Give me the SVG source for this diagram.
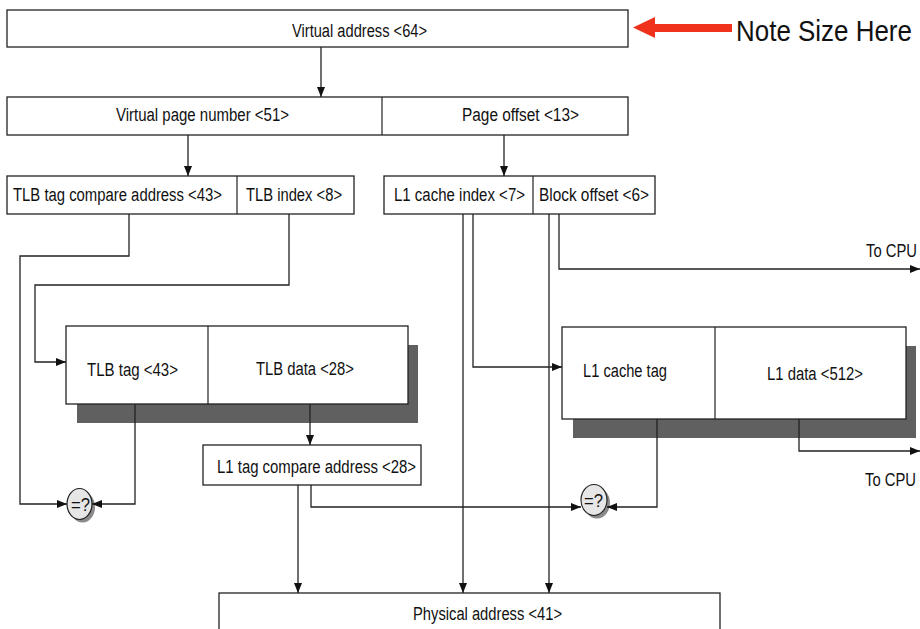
<svg xmlns="http://www.w3.org/2000/svg" width="920" height="629" viewBox="0 0 920 629">
<style>
.box{fill:#fff;stroke:#222;stroke-width:1.3}
.div{stroke:#222;stroke-width:1.2}
.shadow{fill:#606060}
.t{font-family:"Liberation Sans",Arial,sans-serif;font-size:19px;fill:#111}
.c{fill:none;stroke:#222;stroke-width:1.3}
.cmp{fill:#e6e6e6;stroke:#222;stroke-width:1.2}
.cmpsh{fill:#8a8a8a}
</style>
<defs>
<marker id="ah" markerUnits="userSpaceOnUse" markerWidth="10" markerHeight="8" refX="10" refY="4" orient="auto">
<path d="M0,0 L10,4 L0,8 z" fill="#111"/>
</marker>
</defs>
<rect width="920" height="629" fill="#fff"/>

<g id="virtual-address">
<rect class="box" x="7" y="10" width="621" height="37"/>
<text class="t" transform="translate(292,37) scale(0.8,1)" textLength="168.75" lengthAdjust="spacingAndGlyphs">Virtual address &lt;64&gt;</text>
</g>

<g id="note">
<polygon points="633,27.5 655,17 655,24 732,24 732,32 655,32 655,38" fill="#f0321c"/>
<text transform="translate(736,41) scale(0.9,1)" font-family="Liberation Sans,Arial,sans-serif" font-size="29" fill="#111" textLength="195.5" lengthAdjust="spacingAndGlyphs">Note Size Here</text>
</g>

<g id="virtual-page">
<rect class="box" x="7" y="97" width="621" height="38"/>
<line class="div" x1="382" y1="97" x2="382" y2="135"/>
<text class="t" transform="translate(116,121) scale(0.8,1)" textLength="216.25" lengthAdjust="spacingAndGlyphs">Virtual page number &lt;51&gt;</text>
<text class="t" transform="translate(462,121) scale(0.8,1)" textLength="146.25" lengthAdjust="spacingAndGlyphs">Page offset  &lt;13&gt;</text>
</g>

<g id="tlb-address">
<rect class="box" x="7" y="176" width="347" height="38"/>
<line class="div" x1="237" y1="176" x2="237" y2="214"/>
<text class="t" transform="translate(13,201) scale(0.8,1)" textLength="261.25" lengthAdjust="spacingAndGlyphs">TLB tag compare address &lt;43&gt;</text>
<text class="t" transform="translate(246,201) scale(0.8,1)" textLength="120" lengthAdjust="spacingAndGlyphs">TLB index &lt;8&gt;</text>
</g>

<g id="l1-address">
<rect class="box" x="384" y="176" width="271" height="38"/>
<line class="div" x1="533" y1="176" x2="533" y2="214"/>
<text class="t" transform="translate(394,201) scale(0.8,1)" textLength="163.75" lengthAdjust="spacingAndGlyphs">L1 cache index &lt;7&gt;</text>
<text class="t" transform="translate(539,201) scale(0.8,1)" textLength="137.5" lengthAdjust="spacingAndGlyphs">Block offset  &lt;6&gt;</text>
</g>

<g id="tlb">
<rect class="shadow" x="77" y="345" width="341" height="78"/>
<rect class="box" x="66" y="326" width="342" height="78"/>
<line class="div" x1="208" y1="326" x2="208" y2="404"/>
<text class="t" transform="translate(87,376) scale(0.8,1)" textLength="113.75" lengthAdjust="spacingAndGlyphs">TLB tag &lt;43&gt;</text>
<text class="t" transform="translate(256,375) scale(0.8,1)" textLength="122.5" lengthAdjust="spacingAndGlyphs">TLB data &lt;28&gt;</text>
</g>

<g id="l1-cache">
<rect class="shadow" x="573" y="346" width="343" height="92"/>
<rect class="box" x="562" y="327" width="344" height="92"/>
<line class="div" x1="715" y1="327" x2="715" y2="419"/>
<text class="t" transform="translate(583,377) scale(0.8,1)" textLength="105" lengthAdjust="spacingAndGlyphs">L1 cache tag</text>
<text class="t" transform="translate(767,380) scale(0.8,1)" textLength="120" lengthAdjust="spacingAndGlyphs">L1 data &lt;512&gt;</text>
</g>

<g id="l1-tag-compare">
<rect class="box" x="203" y="445" width="218" height="40"/>
<text class="t" transform="translate(217,473) scale(0.8,1)" textLength="248.75" lengthAdjust="spacingAndGlyphs">L1 tag compare address &lt;28&gt;</text>
</g>

<g id="to-cpu-1">
<text class="t" transform="translate(866,257) scale(0.8,1)" textLength="63.75" lengthAdjust="spacingAndGlyphs">To CPU</text>
</g>
<g id="to-cpu-2">
<text class="t" transform="translate(865,486) scale(0.8,1)" textLength="63.75" lengthAdjust="spacingAndGlyphs">To CPU</text>
</g>

<g id="compare-tlb">
<ellipse class="cmpsh" cx="82.5" cy="507" rx="12.5" ry="15.5"/>
<ellipse class="cmp" cx="79.5" cy="504" rx="12.5" ry="15.5"/>
<text class="t" transform="translate(71,511) scale(0.8,1)" textLength="23.75" lengthAdjust="spacingAndGlyphs">=?</text>
</g>

<g id="compare-l1">
<ellipse class="cmpsh" cx="597" cy="503" rx="13" ry="15.5"/>
<ellipse class="cmp" cx="594" cy="500" rx="13" ry="15.5"/>
<text class="t" transform="translate(584,507) scale(0.8,1)" textLength="23.75" lengthAdjust="spacingAndGlyphs">=?</text>
</g>

<g id="physical-address">
<rect class="box" x="219" y="593" width="501" height="50"/>
<text class="t" transform="translate(413,620) scale(0.8,1)" textLength="186.25" lengthAdjust="spacingAndGlyphs">Physical address &lt;41&gt;</text>
</g>

<g id="connectors">
<path class="c" d="M321,47 V97" marker-end="url(#ah)"/>
<path class="c" d="M188,135 V176" marker-end="url(#ah)"/>
<path class="c" d="M504,135 V176" marker-end="url(#ah)"/>
<path class="c" d="M129,214 V256 H20 V504 H67" marker-end="url(#ah)"/>
<path class="c" d="M289,214 V285 H35 V362 H66" marker-end="url(#ah)"/>
<path class="c" d="M135,404 V504 H92" marker-end="url(#ah)"/>
<path class="c" d="M310,404 V445" marker-end="url(#ah)"/>
<path class="c" d="M298,485 V593" marker-end="url(#ah)"/>
<path class="c" d="M311,485 V507 H581" marker-end="url(#ah)"/>
<path class="c" d="M463,214 V593" marker-end="url(#ah)"/>
<path class="c" d="M473,214 V367 H562" marker-end="url(#ah)"/>
<path class="c" d="M549,214 V593" marker-end="url(#ah)"/>
<path class="c" d="M559,214 V269 H920" marker-end="url(#ah)"/>
<path class="c" d="M657,419 V507 H607" marker-end="url(#ah)"/>
<path class="c" d="M799,419 V451 H920" marker-end="url(#ah)"/>
</g>
</svg>
